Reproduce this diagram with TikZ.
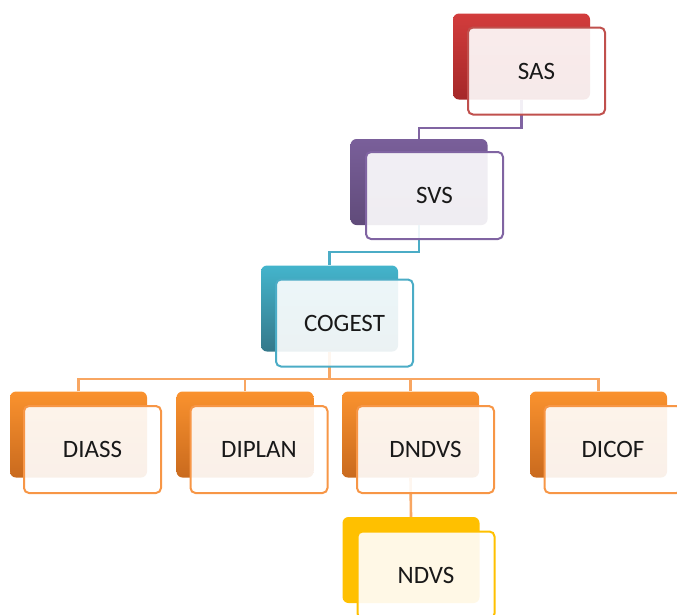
\documentclass[tikz,border=0pt]{standalone}
\usepackage{fontspec}
\setmainfont{Carlito}
\begin{document}
\begin{tikzpicture}[x=1pt,y=-1pt,
  backbox/.style={minimum width=137pt,minimum height=86pt,rounded corners=6pt,inner sep=0pt},
  frontbox/.style={minimum width=137pt,minimum height=87pt,rounded corners=5pt,inner sep=0pt,
     line width=2pt,fill=white,fill opacity=0.9,text opacity=1,text=black!90,
     font=\fontsize{25}{30}\selectfont},
  link/.style={line width=2.6pt}]
\useasboundingbox (0,0) rectangle (677,614);
\definecolor{cRed}{HTML}{C0504D}
\definecolor{cRedT}{HTML}{D23C3C}
\definecolor{cRedB}{HTML}{A52828}
\definecolor{cPur}{HTML}{8064A2}
\definecolor{cBlu}{HTML}{4BACC6}
\definecolor{cOra}{HTML}{F79646}
\definecolor{cOraT}{HTML}{FA922E}
\definecolor{cOraB}{HTML}{C96A1E}
\definecolor{cYel}{HTML}{FFC000}
% back boxes
\node[backbox,top color=cRedT,bottom color=cRedB] (sasb) at (521.5,56.5) {};
\node[backbox,top color=cPur!95!black,bottom color=cPur!75!black] (svsb) at (419,182) {};
\node[backbox,top color=cBlu!90!cyan,bottom color=cBlu!70!black] (cogb) at (329.5,308.5) {};
\node[backbox,top color=cOraT,bottom color=cOraB] (diab) at (78.5,434.5) {};
\node[backbox,top color=cOraT,bottom color=cOraB] (dipb) at (245,434.5) {};
\node[backbox,top color=cOraT,bottom color=cOraB] (dndb) at (410.5,434.5) {};
\node[backbox,top color=cOraT,bottom color=cOraB] (dicb) at (598.5,434.5) {};
\node[backbox,fill=cYel] (ndvb) at (411,560) {};
% connectors
\draw[link,cPur] (sasb.south) -- (sasb.south |- 0,128) -| (svsb.north);
\draw[link,cBlu] (svsb.south) -- (svsb.south |- 0,252) -| (cogb.north);
\draw[link,cOra!85!white] (cogb.south) -- (cogb.south |- 0,379);
\draw[link,cOra!85!white] (diab.north) -- (diab.north |- 0,379) -- (dicb.north |- 0,379) -- (dicb.north);
\draw[link,cOra!85!white] (dipb.north) -- (dipb.north |- 0,379);
\draw[link,cOra!85!white] (dndb.north) -- (dndb.north |- 0,379);
\draw[link,cOra!85!white] (dndb.south) -- (ndvb.north);
% front boxes
\node[frontbox,draw=cRed] (sas) at (536.5,71) {SAS};
\node[frontbox,draw=cPur] (svs) at (434.5,195.5) {SVS};
\node[frontbox,draw=cBlu] (cog) at (344.5,323) {COGEST};
\node[frontbox,draw=cOra] (dia) at (92.5,449.5) {DIASS};
\node[frontbox,draw=cOra] (dip) at (259,449.5) {DIPLAN};
\node[frontbox,draw=cOra] (dnd) at (425.5,449.5) {DNDVS};
\node[frontbox,draw=cOra] (dic) at (613,449.5) {DICOF};
\node[frontbox,draw=cYel] (ndv) at (426,575) {NDVS};
\end{tikzpicture}
\end{document}
